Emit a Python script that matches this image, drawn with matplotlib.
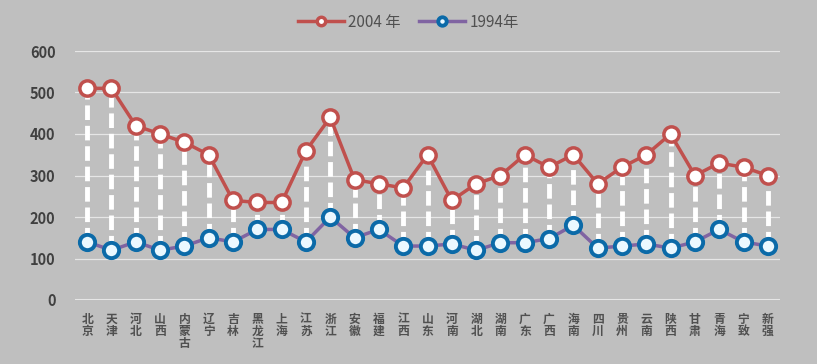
import matplotlib
matplotlib.use('Agg')
import matplotlib.pyplot as plt
import numpy as np

plt.rcParams['font.family'] = ['Noto Sans CJK SC', 'DejaVu Sans']

provinces = ['北京', '天津', '河北', '山西', '内蒙古', '辽宁', '吉林', '黑龙江', '上海',
             '江苏', '浙江', '安徽', '福建', '江西', '山东', '河南', '湖北', '湖南',
             '广东', '广西', '海南', '四川', '贵州', '云南', '陕西', '甘肃', '青海',
             '宁致', '新强']
v2004 = [510, 510, 420, 400, 380, 350, 240, 235, 235, 360, 440, 290, 280, 270, 350,
         240, 280, 300, 350, 320, 350, 280, 320, 350, 400, 300, 330, 320, 300]
v1994 = [140, 120, 140, 120, 130, 150, 140, 170, 170, 140, 200, 150, 170, 130, 130,
         135, 120, 138, 138, 148, 180, 125, 130, 135, 125, 140, 170, 140, 130]
yticks = [0, 100, 200, 300, 400, 500, 600]

bg = '#bfbfbf'
fig = plt.figure(figsize=(8.17, 3.64), dpi=100, facecolor=bg)
ax = fig.add_axes([75 / 817, 64 / 364, 705 / 817, 249 / 364], facecolor=bg)

x = np.arange(len(provinces))

# white dashed drop lines between the two series
ax.vlines(x, v1994, v2004, colors='white', linestyles=(0, (3, 1.2)), linewidth=3.5, zorder=2)

ax.plot(x, v2004, color='#c0504d', linewidth=2.5, marker='o', markersize=11,
        markerfacecolor='white', markeredgecolor='#c0504d', markeredgewidth=2.5,
        label='2004 年', zorder=3)
ax.plot(x, v1994, color='#8064a2', linewidth=2.5, marker='o', markersize=11,
        markerfacecolor='#eaf8ff', markeredgecolor='#0b6aa8', markeredgewidth=2.8,
        label='1994年', zorder=3)

ax.set_xlim(-0.5, len(provinces) - 0.5)
ax.set_ylim(0, 600)
ax.set_yticks(yticks)
ax.set_yticklabels([str(t) for t in yticks], fontsize=10.5, color='#404040', fontweight='bold')
ax.set_xticks(x)
ax.set_xticklabels(['\n'.join(p) for p in provinces], fontsize=8.5, color='#505050',
                   linespacing=0.95, fontweight='bold')
ax.tick_params(axis='both', length=0)
ax.tick_params(axis='y', pad=14)
ax.tick_params(axis='x', pad=9)
ax.grid(axis='y', color='#e6e6e6', linewidth=0.9)
ax.set_axisbelow(True)
for s in ax.spines.values():
    s.set_visible(False)
ax.axhline(0, color='#e6e6e6', linewidth=1.5, zorder=1)

leg = fig.legend(loc='upper center', bbox_to_anchor=(0.5, 1.0), ncol=2, frameon=False,
                 fontsize=11, handlelength=3, columnspacing=1.2, handletextpad=0.3,
                 markerscale=0.55)
for t in leg.get_texts():
    t.set_color('#505050')

fig.savefig('out.png', dpi=100, facecolor=bg)
